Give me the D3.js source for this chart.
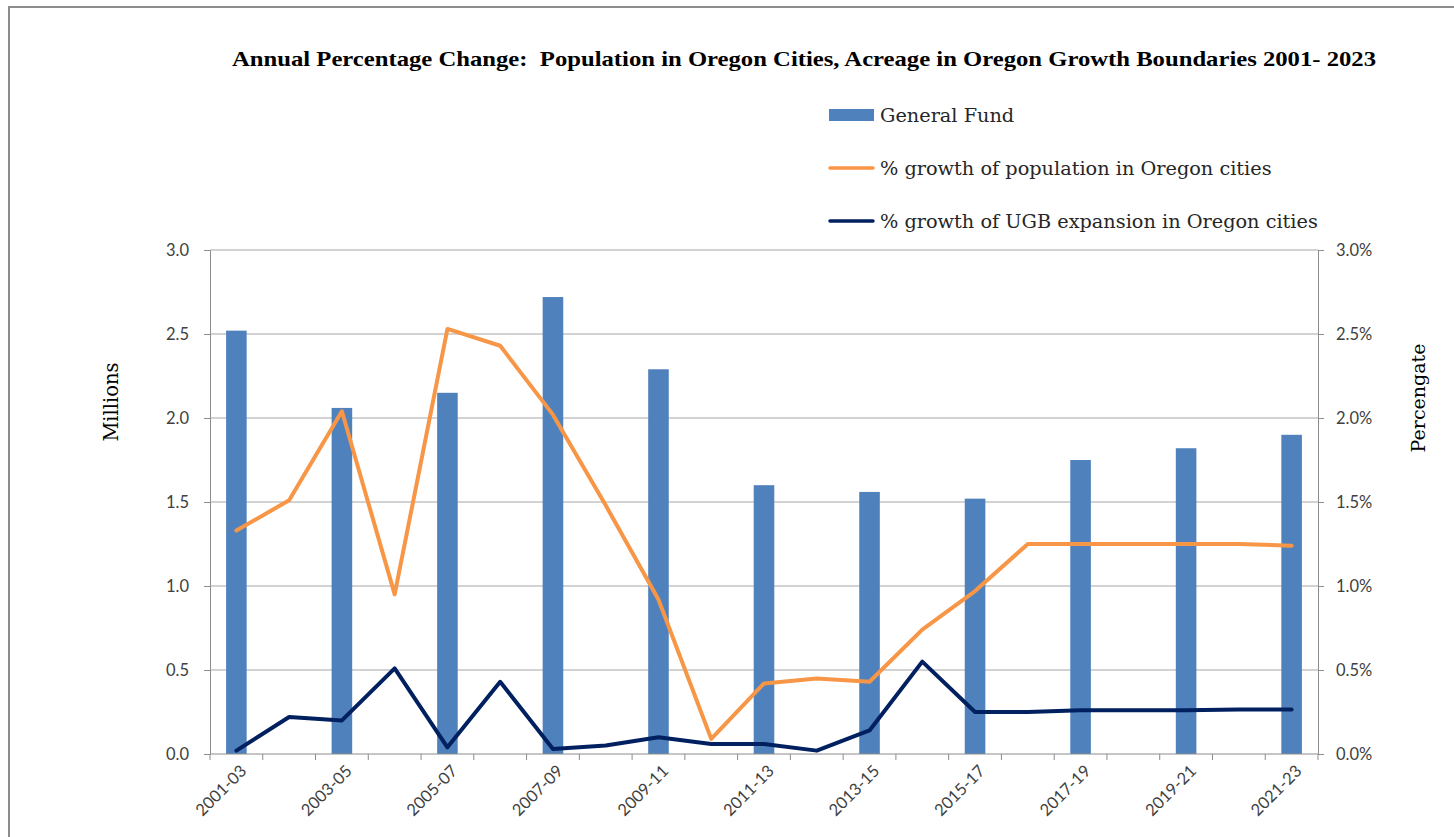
<html>
<head>
<script src="https://d3js.org/d3.v7.min.js"></script>
<style>
  body { margin: 0; background: #fff; }
</style>
</head>
<body>
<script>
// one entry per year step; labels only shown on every other one
var categories = ["2001-03","2002-04","2003-05","2004-06","2005-07","2006-08","2007-09","2008-10",
  "2009-11","2010-12","2011-13","2012-14","2013-15","2014-16","2015-17","2016-18","2017-19",
  "2018-20","2019-21","2020-22","2021-23"];
var shownLabels = ["2001-03","2003-05","2005-07","2007-09","2009-11","2011-13","2013-15",
  "2015-17","2017-19","2019-21","2021-23"];

// General Fund (millions), only on the biennium categories
var generalFund = [2.52, null, 2.06, null, 2.15, null, 2.72, null, 2.29, null, 1.60, null,
  1.56, null, 1.52, null, 1.75, null, 1.82, null, 1.90];
// % growth of population in Oregon cities
var popGrowth = [1.33, 1.51, 2.04, 0.95, 2.53, 2.43, 2.02, 1.48, 0.92, 0.09, 0.42, 0.45,
  0.43, 0.74, 0.97, 1.25, 1.25, 1.25, 1.25, 1.25, 1.24];
// % growth of UGB expansion in Oregon cities
var ugbGrowth = [0.02, 0.22, 0.20, 0.51, 0.04, 0.43, 0.03, 0.05, 0.10, 0.06, 0.06, 0.02,
  0.14, 0.55, 0.25, 0.25, 0.26, 0.26, 0.26, 0.265, 0.265];

var leftTicks = [0, 0.5, 1.0, 1.5, 2.0, 2.5, 3.0];
var rightTicks = [0, 0.5, 1.0, 1.5, 2.0, 2.5, 3.0];

var W = 1454, H = 837;
var mLeft = 210, mRight = 1318, mTop = 250, mBottom = 754;

var svg = d3.select("body").append("svg").attr("width", W).attr("height", H);

// outer chart border
svg.append("rect").attr("x", 9).attr("y", 7).attr("width", W).attr("height", H)
  .attr("fill", "none").attr("stroke", "#8c8c8c").attr("stroke-width", 2);

var x = d3.scaleBand().domain(categories).range([mLeft, mRight]);
var yL = d3.scaleLinear().domain([0, 3]).range([mBottom, mTop]);
var yR = d3.scaleLinear().domain([0, 3]).range([mBottom, mTop]);

var gridColor = "#a6a6a6";
var tickFont = "Lato, 'Liberation Sans', sans-serif";

// gridlines
svg.append("g").selectAll("line").data(leftTicks.slice(1)).enter().append("line")
  .attr("x1", mLeft).attr("x2", mRight)
  .attr("y1", function(d){ return yL(d); }).attr("y2", function(d){ return yL(d); })
  .attr("stroke", gridColor).attr("stroke-width", 1);

// left axis
var axL = svg.append("g").attr("transform", "translate(" + mLeft + ",0)")
  .call(d3.axisLeft(yL).tickValues(leftTicks).tickFormat(d3.format(".1f")).tickSize(6).tickPadding(15));
// right axis
var axR = svg.append("g").attr("transform", "translate(" + mRight + ",0)")
  .call(d3.axisRight(yR).tickValues(rightTicks).tickFormat(function(d){ return d3.format(".1f")(d) + "%"; })
  .tickSize(6).tickPadding(12));

[axL, axR].forEach(function(a){
  a.select(".domain").attr("stroke", "#8c8c8c");
  a.selectAll(".tick line").attr("stroke", "#8c8c8c");
  a.selectAll("text").attr("font-family", tickFont).attr("font-size", 16.5).attr("fill", "#404040");
});

// bars
svg.append("g").selectAll("rect")
  .data(categories.map(function(c, i){ return {c: c, v: generalFund[i]}; }).filter(function(d){ return d.v != null; }))
  .enter().append("rect")
  .attr("x", function(d){ return x(d.c) + x.bandwidth() / 2 - x.bandwidth() * 0.195; })
  .attr("width", x.bandwidth() * 0.39)
  .attr("y", function(d){ return yL(d.v); })
  .attr("height", function(d){ return mBottom - yL(d.v); })
  .attr("fill", "#4f81bd");

// x axis line and category boundary ticks
svg.append("line").attr("x1", mLeft).attr("x2", mRight).attr("y1", mBottom).attr("y2", mBottom)
  .attr("stroke", "#8c8c8c");
var bounds = categories.map(function(c){ return x(c); }).concat([mRight]);
svg.append("g").selectAll("line").data(bounds).enter().append("line")
  .attr("x1", function(d){ return d; }).attr("x2", function(d){ return d; })
  .attr("y1", mBottom).attr("y2", mBottom + 6)
  .attr("stroke", "#8c8c8c");

// rotated x labels
svg.append("g").selectAll("text").data(shownLabels).enter().append("text")
  .attr("transform", function(d){
    var cx = x(d) + x.bandwidth() / 2 + 7;
    return "translate(" + cx + "," + (mBottom + 14) + ") rotate(-45)";
  })
  .attr("text-anchor", "end")
  .attr("dy", "0.35em")
  .attr("font-family", tickFont).attr("font-size", 16.5).attr("fill", "#404040")
  .text(function(d){ return d; });

// lines
var cx = function(d, i){ return x(categories[i]) + x.bandwidth() / 2; };
var pctLine = d3.line().x(cx).y(function(d){ return yR(d); });
svg.append("path").datum(popGrowth).attr("d", pctLine)
  .attr("fill", "none").attr("stroke", "#f79646").attr("stroke-width", 4)
  .attr("stroke-linejoin", "round").attr("stroke-linecap", "round");
svg.append("path").datum(ugbGrowth).attr("d", pctLine)
  .attr("fill", "none").attr("stroke", "#002060").attr("stroke-width", 4)
  .attr("stroke-linejoin", "round").attr("stroke-linecap", "round");

// title
svg.append("text").attr("x", 232).attr("y", 66)
  .style("white-space", "pre")
  .attr("font-family", "'Liberation Serif', serif").attr("font-weight", "bold").attr("font-size", 21)
  .attr("textLength", 1144).attr("lengthAdjust", "spacingAndGlyphs")
  .attr("fill", "#000")
  .text("Annual Percentage Change:  Population in Oregon Cities, Acreage in Oregon Growth Boundaries 2001- 2023");

// legend
var legendItems = [
  {name: "General Fund", type: "bar", color: "#4f81bd", y: 115},
  {name: "% growth of population in Oregon cities", type: "line", color: "#f79646", y: 168},
  {name: "% growth of UGB expansion in Oregon cities", type: "line", color: "#002060", y: 221}
];
var lg = svg.append("g").selectAll("g").data(legendItems).enter().append("g");
lg.each(function(d){
  var g = d3.select(this);
  if (d.type === "bar") {
    g.append("rect").attr("x", 829).attr("y", d.y - 6).attr("width", 45).attr("height", 12).attr("fill", d.color);
  } else {
    g.append("line").attr("x1", 830).attr("x2", 873).attr("y1", d.y).attr("y2", d.y)
      .attr("stroke", d.color).attr("stroke-width", 3.5).attr("stroke-linecap", "round");
  }
  g.append("text").attr("x", 880).attr("y", d.y + 7)
    .attr("font-family", "'DejaVu Serif', serif").attr("font-size", 19.3).attr("fill", "#262626")
    .text(d.name);
});

// axis titles
svg.append("text").attr("transform", "translate(118,402) rotate(-90)")
  .attr("text-anchor", "middle")
  .attr("font-family", "'DejaVu Serif', serif").attr("font-size", 19.5).attr("fill", "#000")
  .text("Millions");
svg.append("text").attr("transform", "translate(1425,398) rotate(-90)")
  .attr("text-anchor", "middle")
  .attr("font-family", "'DejaVu Serif', serif").attr("font-size", 19).attr("fill", "#000")
  .text("Percengate");
</script>
</body>
</html>
